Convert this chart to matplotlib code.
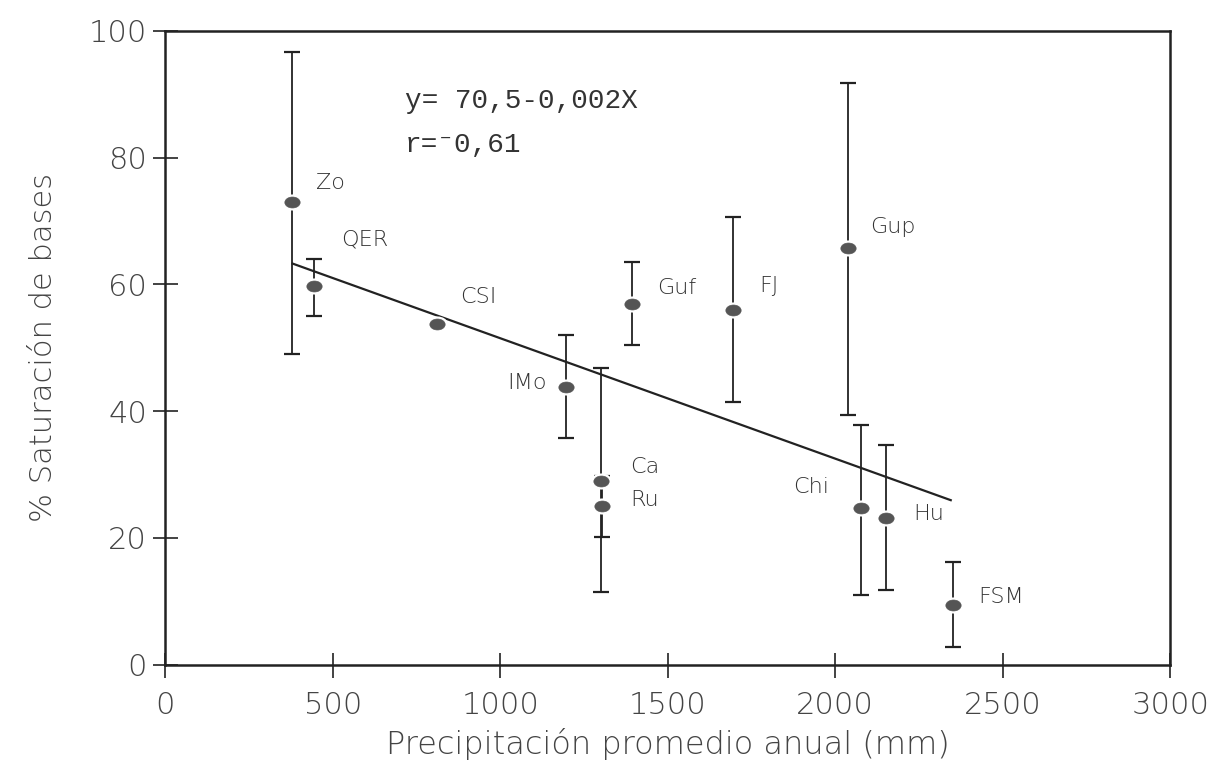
import numpy as np
import matplotlib.pyplot as plt
from matplotlib.path import Path
from matplotlib.transforms import Affine2D

# sitios: precipitacion media anual (mm) y % saturacion de bases
sites = ['Zo', 'QER', 'CSI', 'IMo', 'Ca', 'Ru', 'Guf', 'FJ', 'Gup', 'Chi', 'Hu', 'FSM']
precip = [377, 443, 812, 1196, 1300, 1305, 1393, 1696, 2039, 2077, 2152, 2351]
sat = [73.0, 59.7, 53.8, 43.8, 29.0, 25.0, 56.9, 56.0, 65.7, 24.7, 23.1, 9.4]
sat_low = [49.0, 55.0, 53.8, 35.7, 11.5, 20.2, 50.4, 41.4, 39.4, 11.0, 11.7, 2.7]
sat_high = [96.7, 64.0, 53.8, 52.0, 46.8, 29.8, 63.5, 70.6, 91.8, 37.8, 34.6, 16.2]

# posicion de las etiquetas de cada sitio
label_x = [450, 524, 881, 1021, 1387, 1387, 1467, 1774, 2104, 1875, 2232, 2428]
label_y = [76.0, 67.0, 58.0, 44.4, 31.2, 26.0, 59.4, 59.7, 69.1, 28.0, 23.8, 10.7]

# recta de regresion
intercept = 70.5
slope = -0.019
fit_range = [380, 2345]

plt.rcParams['font.family'] = ['DejaVu Sans']
fig, ax = plt.subplots(figsize=(12.24, 7.71), dpi=100)
fig.subplots_adjust(left=0.135, right=0.956, bottom=0.138, top=0.96)

x = np.array(precip)
y = np.array(sat)
lo = np.array(sat_low)
hi = np.array(sat_high)
has_err = (hi - lo) > 0

# marcador eliptico (mas ancho que alto)
ellipse = Path.unit_circle().transformed(Affine2D().scale(1.4, 1.0))

ax.errorbar(x[has_err], y[has_err], yerr=[y[has_err] - lo[has_err], hi[has_err] - y[has_err]],
            fmt='none', ecolor='#222222', elinewidth=1.3, capsize=5.5, capthick=1.6, zorder=2)

xf = np.array(fit_range)
ax.plot(xf, intercept + slope * xf, color='#222222', lw=1.6, zorder=3)

ax.plot(x, y, marker=ellipse, ls='none', ms=12, color='#555555', mec='white', mew=3, zorder=4)
ax.plot(x, y, marker=ellipse, ls='none', ms=11, color='#555555', mec='#555555', mew=0.5, zorder=5)

for name, lx, ly in zip(sites, label_x, label_y):
    ax.text(lx, ly, name, fontsize=16, color='#333333', va='center', ha='left',
            fontweight='light')

mono = ['Liberation Mono', 'DejaVu Sans Mono']
ax.text(715, 89, 'y= 70,5-0,002X', fontsize=20, family=mono, color='#333333', va='center')
ax.text(715, 82, 'r=\u207b0,61', fontsize=20, family=mono, color='#333333', va='center')

ax.set_xlim(0, 3000)
ax.set_ylim(0, 100)
ax.set_xticks(np.arange(0, 3001, 500))
ax.set_yticks(np.arange(0, 101, 20))
ax.tick_params(direction='inout', length=18, width=1.2, labelsize=22, colors='#222222',
               labelcolor='#444444')
ax.tick_params(axis='x', pad=10)
ax.tick_params(axis='y', pad=4)
for lab in ax.get_xticklabels() + ax.get_yticklabels():
    lab.set_fontweight('light')
for sp in ax.spines.values():
    sp.set_linewidth(1.8)
    sp.set_color('#222222')

ax.set_xlabel('Precipitación promedio anual (mm)', fontsize=23, color='#444444',
              fontweight='light', labelpad=6)
ax.set_ylabel('% Saturación de bases', fontsize=22, color='#444444',
              fontweight='light', labelpad=22)

plt.savefig('out.png', dpi=100)
